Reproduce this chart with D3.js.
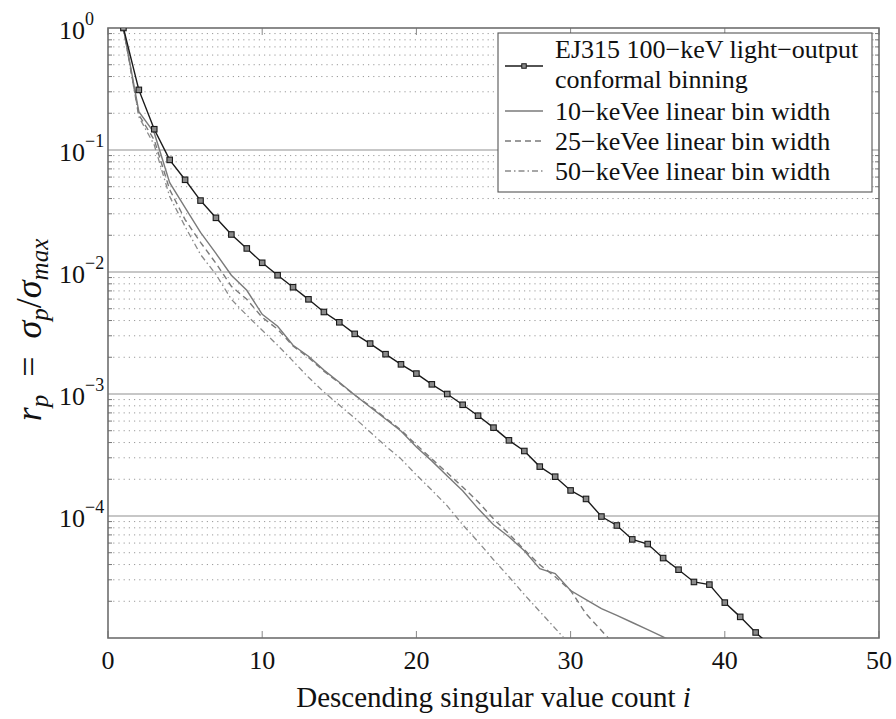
<!DOCTYPE html>
<html><head><meta charset="utf-8">
<script src="https://cdn.jsdelivr.net/npm/d3@7"></script>
<style>body{margin:0;background:#fff}svg{display:block}
svg text{font-family:"Liberation Serif","Times New Roman",Tinos,"DejaVu Serif","Noto Serif",serif;}</style>
</head><body>
<script>
// ---- data ----
const seriesNames = ["EJ315 100\u2212keV light\u2212output|conformal binning","10\u2212keVee linear bin width","25\u2212keVee linear bin width","50\u2212keVee linear bin width"];
const conformal = [1.0,0.311,0.148,0.083,0.057,0.0385,0.0278,0.0203,0.0156,0.0119,0.0094,0.0075,0.00597,0.0047,0.00387,0.00311,0.00259,0.00212,0.00175,0.00147,0.0012,0.00100,8.16e-4,6.64e-4,5.30e-4,4.17e-4,3.41e-4,2.54e-4,2.10e-4,1.62e-4,1.38e-4,9.9e-5,8.36e-5,6.43e-5,5.89e-5,4.52e-5,3.63e-5,2.88e-5,2.74e-5,1.95e-5,1.49e-5,1.11e-5,8.6e-6];
const lin10 = [1.0,0.206,0.138,0.054,0.0337,0.0211,0.0142,0.0094,0.00708,0.0045,0.00359,0.00251,0.00204,0.00157,0.00125,9.8e-4,7.82e-4,6.24e-4,4.98e-4,3.68e-4,2.83e-4,2.13e-4,1.61e-4,1.15e-4,8.48e-5,6.76e-5,5.19e-5,3.70e-5,3.37e-5,2.45e-5,2.06e-5,1.74e-5,1.53e-5,1.34e-5,1.17e-5,1.02e-5,8.9e-6];
const lin25 = [1.0,0.194,0.121,0.0473,0.0269,0.0175,0.0118,0.00763,0.00597,0.00425,0.0034,0.00247,0.00199,0.00154,0.00123,9.8e-4,7.96e-4,6.35e-4,5.07e-4,3.82e-4,2.94e-4,2.26e-4,1.73e-4,1.31e-4,9.48e-5,7.14e-5,5.29e-5,3.99e-5,3.18e-5,2.45e-5,1.58e-5,1.15e-5,8.4e-6];
const lin50 = [1.0,0.187,0.110,0.0415,0.0236,0.0139,0.00955,0.00597,0.00442,0.00333,0.00251,0.00186,0.00137,0.00104,8.11e-4,6.35e-4,4.88e-4,3.75e-4,2.94e-4,2.17e-4,1.63e-4,1.21e-4,8.48e-5,6.15e-5,4.38e-5,3.18e-5,2.27e-5,1.65e-5,1.20e-5,8.7e-6];
const xTicks = [0,10,20,30,40,50];
const yTickExps = [0,-1,-2,-3,-4];

// ---- layout ----
const W=896,H=719;
const L=108,R=879,T=28,B=638;
const svg=d3.select("body").append("svg").attr("width",W).attr("height",H);
const x=d3.scaleLinear().domain([0,50]).range([L,R]);
const y=d3.scaleLog().domain([1e-5,1]).range([B,T]);

svg.append("defs").append("clipPath").attr("id","clip")
  .append("rect").attr("x",L).attr("y",T).attr("width",R-L).attr("height",B-T);

// minor grid
const minors=[];
for(let d=-5;d<0;d++) for(let k=2;k<=9;k++) minors.push(k*Math.pow(10,d));
const g=svg.append("g");
g.selectAll("line.minor").data(minors).enter().append("line")
  .attr("x1",L).attr("x2",R).attr("y1",d=>y(d)).attr("y2",d=>y(d))
  .attr("stroke","#9a9a9a").attr("stroke-width",1).attr("stroke-dasharray","1.2,4");
// major grid
g.selectAll("line.major").data(yTickExps.filter(e=>e<0)).enter().append("line")
  .attr("x1",L).attr("x2",R).attr("y1",e=>y(Math.pow(10,e))).attr("y2",e=>y(Math.pow(10,e)))
  .attr("stroke","#b4b4b4").attr("stroke-width",1.6);

// minor ticks left/right
g.selectAll("line.mtl").data(minors).enter().append("line")
  .attr("x1",L).attr("x2",L+4).attr("y1",d=>y(d)).attr("y2",d=>y(d)).attr("stroke","#777").attr("stroke-width",1);
g.selectAll("line.mtr").data(minors).enter().append("line")
  .attr("x1",R-4).attr("x2",R).attr("y1",d=>y(d)).attr("y2",d=>y(d)).attr("stroke","#777").attr("stroke-width",1);
// x ticks bottom/top inward
g.selectAll("line.xtb").data(xTicks).enter().append("line")
  .attr("x1",d=>x(d)).attr("x2",d=>x(d)).attr("y1",B).attr("y2",B-7).attr("stroke","#888").attr("stroke-width",1);
g.selectAll("line.xtt").data(xTicks).enter().append("line")
  .attr("x1",d=>x(d)).attr("x2",d=>x(d)).attr("y1",T).attr("y2",T+7).attr("stroke","#888").attr("stroke-width",1);

// frame
svg.append("rect").attr("x",L).attr("y",T).attr("width",R-L).attr("height",B-T)
  .attr("fill","none").attr("stroke","#6e6e6e").attr("stroke-width",1.6);

// lines
const line=d3.line().x((d,i)=>x(i+1)).y(d=>y(d));
const plot=svg.append("g").attr("clip-path","url(#clip)");
const styles=[
  {data:conformal,color:"#1a1a1a",dash:null,w:1.4},
  {data:lin10,color:"#7a7a7a",dash:null,w:1.4},
  {data:lin25,color:"#7a7a7a",dash:"6,4",w:1.4},
  {data:lin50,color:"#8a8a8a",dash:"6,3,1.5,3",w:1.3}
];
styles.slice().reverse().forEach(s=>{
  plot.append("path").datum(s.data).attr("d",line).attr("fill","none")
    .attr("stroke",s.color).attr("stroke-width",s.w).attr("stroke-dasharray",s.dash);
});
plot.selectAll("rect.mk").data(conformal).enter().append("rect")
  .attr("x",(d,i)=>x(i+1)-2.75).attr("y",d=>y(d)-2.75).attr("width",5.5).attr("height",5.5)
  .attr("fill","#8a8a8a").attr("stroke","#1a1a1a").attr("stroke-width",1.1);

// tick labels
svg.selectAll("text.xt").data(xTicks).enter().append("text")
  .attr("x",d=>x(d)).attr("y",669).attr("text-anchor","middle")
  .attr("font-size",26).attr("fill","#111").text(d=>d);
const yl=svg.selectAll("text.yt").data(yTickExps).enter().append("text")
  .attr("x",59).attr("y",e=>y(Math.pow(10,e))+11)
  .attr("font-size",26).attr("fill","#111");
yl.append("tspan").text("10");
yl.append("tspan").attr("dy",-14).attr("font-size",18).text(e=>e===0?"0":"\u2212"+(-e));

// axis titles
svg.append("text").attr("x",(L+R)/2).attr("y",707).attr("text-anchor","middle")
  .attr("font-size",29).attr("fill","#111")
  .html('Descending singular value count <tspan font-style="italic">i</tspan>');
const yt=svg.append("text").attr("transform","translate(41,330) rotate(-90)").attr("text-anchor","middle")
  .attr("font-size",36).attr("fill","#111");
yt.append("tspan").attr("font-style","italic").text("r");
yt.append("tspan").attr("font-style","italic").attr("font-size",25).attr("dy",7).text("p");
yt.append("tspan").attr("dy",-7).text("\u2002=\u2002");
yt.append("tspan").attr("font-style","italic").text("\u03c3");
yt.append("tspan").attr("font-style","italic").attr("font-size",25).attr("dy",7).text("p");
yt.append("tspan").attr("dy",-7).text("/");
yt.append("tspan").attr("font-style","italic").text("\u03c3");
yt.append("tspan").attr("font-style","italic").attr("font-size",25).attr("dy",7).text("max");

// legend
const lg=svg.append("g");
lg.append("rect").attr("x",498).attr("y",33).attr("width",374).attr("height",159)
  .attr("fill","#fff").attr("stroke","#555").attr("stroke-width",1.1);
const legRows=[{sy:66,ty:[58,88]},{sy:111,ty:[120]},{sy:141,ty:[150]},{sy:171,ty:[180]}];
legRows.forEach((r,k)=>{
  const s=styles[k];
  lg.append("line").attr("x1",505).attr("x2",543).attr("y1",r.sy).attr("y2",r.sy)
    .attr("stroke",s.color).attr("stroke-width",s.w).attr("stroke-dasharray",s.dash);
  if(k===0) lg.append("rect").attr("x",524-2.25).attr("y",r.sy-2.25).attr("width",4.5).attr("height",4.5)
    .attr("fill","#8a8a8a").attr("stroke","#1a1a1a").attr("stroke-width",1);
  seriesNames[k].split("|").forEach((t,j)=>{
    lg.append("text").attr("x",555).attr("y",r.ty[j])
      .attr("font-size",26).attr("fill","#111").text(t);
  });
});
</script>
</body></html>
